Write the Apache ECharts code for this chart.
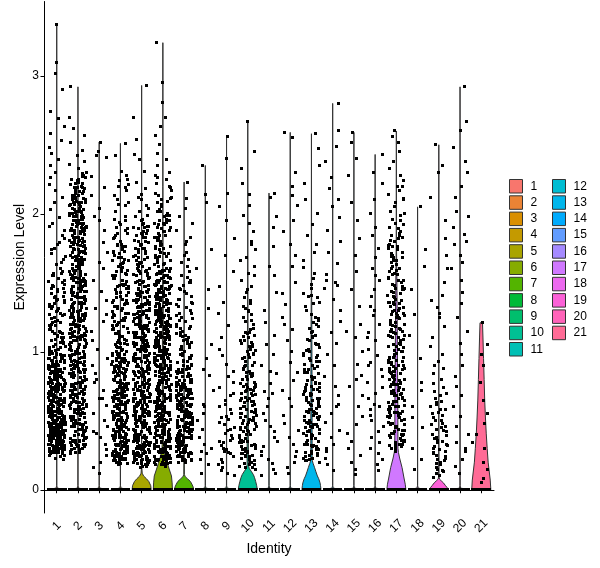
<!DOCTYPE html>
<html><head><meta charset="utf-8">
<script src="https://cdn.jsdelivr.net/npm/echarts@6/dist/echarts.min.js"></script>
<style>html,body{margin:0;padding:0;background:#fff}#chart{width:600px;height:568px}</style>
</head><body><div id="chart"></div>
<script>
const categories = ['1','2','3','4','5','6','7','8','9','10','11','12','13','14','15','16','17','18','19','20','21'];
const yTicks = [0, 1, 2, 3];
// estimated number of cells at exactly 0 per cluster
const zeroCells = [60,60,50,60,60,60,60,50,50,60,50,50,60,50,50,50,60,50,60,50,50];

// non-zero expression values per cluster (read from the jittered points)
const expr1 = [.22,.24,.25,.23,.27,.26,.29,.28,.3,.31,.3,.33,.32,.34,.35,.33,.31,.29,.27,.34,.26,.32,.35,.28,.3,
.36,.38,.41,.37,.44,.4,.43,.39,.47,.42,.45,.5,.46,.48,.52,.49,.55,.51,.53,.58,.54,.57,.6,.56,.59,
.38,.42,.46,.5,.54,.58,.37,.41,.45,.49,.53,.57,.36,.4,.44,.48,.52,.56,.39,.43,.47,.51,.55,.59,
.62,.64,.61,.67,.63,.66,.7,.65,.69,.72,.68,.74,.71,.76,.73,.78,.75,.8,.77,.83,.79,.85,.82,.88,.84,.9,.87,.63,.68,.73,.66,.71,.77,.81,.86,.64,.69,.75,.62,.7,
.92,.95,.97,.94,1,.98,1.03,1.01,1.06,1.04,1.09,1.07,1.12,1.1,1.15,1.13,1.18,1.16,1.21,.96,1.02,1.08,1.14,1.19,
1.24,1.27,1.31,1.29,1.35,1.33,1.38,1.42,1.4,1.46,1.44,1.5,1.53,1.48,1.57,1.55,1.6,1.26,1.37,
1.63,1.67,1.71,1.69,1.75,1.79,1.74,1.84,1.88,1.82,1.93,1.97,1.91,
2.03,2.08,2.12,2.17,2.21,2.26,2.3,2.35,2.39,2.44,2.48,2.53,2.58,2.63,2.69,2.74,2.9,3.02,3.1,3.37,
.25,.27,.29,.31,.33,.35,.37,.39,.41,.43,.45,.47,.49,.51,.53,.55,.57,.59,.26,.28,.3,.32,.34,.36,.38,.4,.42,.44,.46,.48,.5,.52,.54,.56,.58,.6,.27,.31,.35,.39,.43,.47,.51,.55,.59,.29,.33,.37,.41,.45,.49,.53,.57,.32,.36,.4,.44,.48,.52,.56,.3,.34,.38,.42,.46,.5,.54,.58,.4,.45,
.61,.63,.65,.67,.69,.71,.73,.75,.77,.79,.81,.83,.85,.87,.89,.91,.93,.95,.97,.99,.62,.66,.7,.74,.78,.82,.86,.9,.94,.98,.64,.68,.72,.76,.8,.84,.88,.92,.96,.63,.67,.71,.75,.79,.83,.87,.65,.73,.81,.89,
1.01,1.04,1.07,1.1,1.13,1.16,1.19,1.22,1.25,1.28,1.31,1.34,1.37,1.4,1.43,1.46,1.49,1.52,1.55,1.58,1.03,1.09,1.15,1.21,1.27,1.33,1.39,1.45,1.51,1.57,
.28,.3,.32,.34,.36,.38,.4,.42,.44,.46,.48,.5,.52,.54,.56,.58,.6,.62,.64,.66,.68,.7,.72,.74,.76,.78,.8,.82,.84,.86,.88,.9,.92,.94,.96,.98,
.29,.31,.33,.35,.37,.39,.41,.43,.45,.47,.49,.51,.53,.55,.57,.59,.61,.63,.65,.67,.69,.71,.73,.75,.77,.79,.81,.83,.85,.87,.89,.91,.93,.95,.97,.99,
.3,.35,.4,.45,.5,.55,.6,.65,.7,.75,.8,.85,.9,.95,1,1.05,1.1,1.2,1.3,1.4,1.5,1.11,1.23,1.36,1.47,1.65,1.78];
const expr2 = [.26,.28,.27,.3,.32,.29,.34,.31,.36,.33,.38,.35,.4,.37,.42,.39,.44,.41,.46,.43,.48,.45,.5,.47,.49,.31,.36,.42,.47,.29,
.52,.55,.51,.58,.54,.61,.57,.63,.6,.66,.62,.69,.65,.71,.68,.74,.7,.77,.73,.79,.76,.82,.78,.85,.81,.87,.84,.9,.86,.93,.89,.95,.92,.98,.94,1,.97,.53,.59,.64,.72,.8,.88,.96,.56,.67,.75,.83,.91,.99,.58,.63,.7,.77,.85,.93,.62,.74,.86,.97,
1.02,1.05,1.01,1.08,1.04,1.11,1.07,1.13,1.1,1.16,1.12,1.19,1.15,1.22,1.18,1.25,1.21,1.27,1.24,1.3,1.26,1.33,1.29,1.36,1.32,1.38,1.35,1.41,1.37,1.44,1.4,1.47,1.43,1.49,1.46,1.03,1.09,1.14,1.2,1.28,1.34,1.39,1.45,1.06,1.17,1.23,1.31,1.42,1.48,1.11,1.26,1.35,1.19,1.44,1.5,
1.52,1.55,1.51,1.58,1.54,1.61,1.57,1.63,1.6,1.66,1.62,1.69,1.65,1.71,1.68,1.74,1.7,1.77,1.73,1.79,1.76,1.82,1.78,1.85,1.81,1.87,1.84,1.9,1.86,1.93,1.89,1.95,1.92,1.98,1.94,2,1.97,1.56,1.64,1.72,1.8,1.88,1.96,1.59,1.67,1.75,1.83,1.91,1.53,1.99,
2.02,2.05,2.01,2.08,2.04,2.11,2.07,2.13,2.1,2.16,2.12,2.19,2.15,2.22,2.18,2.25,2.21,2.27,2.24,2.3,2.26,2.33,2.29,2.06,2.17,
2.38,2.42,2.36,2.46,2.52,2.57,2.62,2.7,2.92,
.27,.33,.39,.45,.51,.57,.63,.69,.75,.81,.87,.93,.99,1.05,1.11,1.17,1.23,1.29,1.35,1.41,1.47,1.53,1.59,1.65,1.71,1.77,1.83,1.89,1.95,2.01,2.07,2.13,2.19,
.3,.36,.42,.48,.54,.6,.66,.72,.78,.84,.9,.96,1.02,1.08,1.14,1.2,1.26,1.32,1.38,1.44,1.5,1.56,1.62,1.68,1.74,1.8,1.86,1.92,1.98,2.04,2.1,2.16,2.22,
.34,.41,.48,.55,.62,.69,.76,.83,.9,.97,1.04,1.11,1.18,1.25,1.32,1.39,1.46,1.53,1.6,1.67,1.74,1.81,1.88,1.95,2.02,2.09,
.37,.46,.55,.64,.73,.82,.91,1,1.09,1.18,1.27,1.36,1.45,1.54,1.63,1.72,1.81,1.9,1.99,2.08,
.44,.58,.71,.85,.98,1.12,1.25,1.39,1.52,1.66,1.79,1.93,.5,.7,.9,1.1,1.3,1.5,1.7,1.9,
.28,.32,.36,.4,.44,.48,.52,.56,.6,.64,.68,.72,.76,.8,.84,.88,.92,.96,1,1.04,1.08,1.12,1.16,1.2,1.24,1.28,1.32,1.36,1.4,1.44,1.48,1.52,1.56,1.6,1.64,1.68,1.72,1.76,1.8,1.84,1.88,1.92,1.96,2,2.04,2.08,2.12,2.16,2.2,
.31,.35,.39,.43,.47,.51,.55,.59,.63,.67,.71,.75,.79,.83,.87,.91,.95,.99,1.03,1.07,1.11,1.15,1.19,1.23,1.27,1.31,1.35,1.39,1.43,1.47,1.51,1.55,1.59,1.63,1.67,1.71,1.75,1.79,1.83,1.87,1.91,1.95,1.99,2.03,2.07,2.11,2.15,2.19,2.23,
.33,.38,.43,.48,.53,.58,.63,.68,.73,.78,.83,.88,.93,.98,1.03,1.08,1.13,1.18,1.23,1.28,1.33,1.38,1.43,1.48,1.53,1.58,1.63,1.68,1.73,1.78,1.83,1.88,1.93,1.98,2.03,2.08,2.13,2.18,2.25,2.28];
const expr3 = [2.52,2.45,2.42,2.41,2.27,2.19,2.13,2.04,1.98,1.95,1.88,1.79,1.72,1.65,1.6,1.52,1.44,1.37,1.31,1.22,1.15,1.08,1.02,.95,.9,.84,.78,.72,.66,.61,.55,.5,.46,.42,.38,.33,.29,.25,.2,.16,.12,.66,.41,1.27,.8];
const expr4 = [.18,.2,.19,.22,.21,.24,.23,.26,.25,.28,.27,.3,.29,.32,.31,.34,.33,.36,.35,.38,.37,.4,.39,.2,.23,.27,.31,.35,.39,.22,.26,.3,.34,.38,.25,.29,.33,.37,.24,.36,
.41,.43,.42,.46,.44,.48,.45,.5,.47,.52,.49,.55,.51,.57,.53,.59,.56,.61,.58,.63,.6,.65,.62,.67,.64,.7,.66,.72,.68,.74,.71,.76,.73,.78,.75,.8,.77,.42,.47,.52,.57,.62,.67,.72,.77,.44,.5,.55,.6,.66,.71,.46,.54,.63,.79,
.82,.85,.81,.88,.84,.91,.87,.94,.9,.96,.93,.99,.95,1.02,.98,1.05,1.01,1.08,1.04,1.1,1.07,1.13,1.09,1.16,1.12,1.18,1.15,1.2,.83,.89,.97,1.03,1.11,1.17,.86,.92,1,1.06,1.14,1.19,
1.22,1.25,1.21,1.28,1.24,1.31,1.27,1.34,1.3,1.37,1.33,1.4,1.36,1.43,1.39,1.46,1.42,1.49,1.45,1.52,1.48,1.55,1.51,1.58,1.54,1.6,1.23,1.35,1.47,1.57,
1.62,1.66,1.64,1.7,1.68,1.74,1.72,1.78,1.76,1.82,1.8,1.86,1.84,1.9,1.88,1.94,1.92,1.98,1.96,1.65,1.77,1.89,
2.02,2.06,2.1,2.13,2.08,2.17,2.21,2.19,2.25,2.28,2.24,2.31,2.42,2.51,
.19,.23,.27,.31,.35,.39,.43,.47,.51,.55,.59,.63,.67,.71,.75,.79,.83,.87,.91,.95,.99,
.21,.25,.29,.33,.37,.41,.45,.49,.53,.57,.61,.65,.69,.73,.77,.81,.85,.89,.93,.97,
.2,.26,.32,.38,.44,.5,.56,.62,.68,.74,.8,.86,.92,.98,.24,.34,.44,.54,.64,.74,.84,.94,
1.03,1.08,1.13,1.18,1.23,1.28,1.33,1.38,1.43,1.48,1.53,1.58,1.63,1.68,1.73,1.78,1.06,1.16,1.26,1.36,1.46,1.56,1.66,1.76,1.86,
.2,.22,.24,.26,.28,.3,.32,.34,.36,.38,.4,.42,.44,.46,.48,.5,.52,.54,.56,.58,.6,.62,.64,.66,.68,.7,.72,.74,.76,.78,.8,.82,.84,.86,.88,.9,.92,.94,.96,.98,1,
.23,.29,.35,.41,.47,.53,.59,.65,.71,.77,.83,.89,.95,1.01,1.07,1.13,1.19,1.25,1.31,1.37,1.43,1.49,1.55,1.61,1.67,1.73,
.21,.27,.33,.39,.45,.51,.57,.63,.69,.75,.81,.87,.93,.99,1.05,1.11,1.17,1.23,1.29,1.35,1.41,1.47,1.53,1.59,1.71,1.83,1.95,2.07,2.2];
const expr5 = [.16,.18,.17,.2,.19,.22,.21,.24,.23,.26,.25,.28,.27,.3,.29,.32,.31,.34,.33,.36,.35,.38,.37,.4,.39,.19,.23,.27,.31,.35,.2,.24,.28,.32,.36,.21,.26,.3,.34,.38,
.41,.44,.42,.47,.43,.49,.46,.52,.48,.54,.5,.56,.53,.59,.55,.61,.57,.63,.6,.66,.62,.68,.64,.7,.67,.72,.69,.75,.71,.77,.73,.79,.76,.8,.78,.45,.51,.58,.65,.74,.43,.5,.57,.63,.7,.77,.44,.53,.6,.68,.75,.48,.56,.66,.72,
.81,.84,.82,.87,.83,.9,.86,.92,.88,.95,.91,.97,.93,1,.96,1.03,.98,1.05,1.01,1.08,1.04,1.1,1.06,1.13,1.09,1.15,1.11,1.18,1.14,1.2,1.17,.85,.89,.94,.99,1.02,1.07,1.12,1.16,1.19,.83,.88,.93,.97,1.04,1.1,1.14,.86,.95,1.06,
1.21,1.24,1.22,1.27,1.23,1.3,1.26,1.32,1.28,1.35,1.31,1.37,1.33,1.4,1.36,1.43,1.38,1.45,1.41,1.48,1.44,1.5,1.46,1.53,1.49,1.55,1.51,1.58,1.54,1.6,1.57,1.25,1.29,1.34,1.39,1.42,1.47,1.52,1.56,1.59,
1.62,1.65,1.63,1.68,1.66,1.71,1.69,1.74,1.72,1.77,1.75,1.8,1.78,1.83,1.81,1.86,1.84,1.89,1.87,1.92,1.9,1.95,1.93,1.98,1.96,1.64,1.79,1.91,
2.02,2.06,2.04,2.1,2.14,2.12,2.18,2.23,2.31,2.39,2.43,2.54,2.7,2.93,
.17,.21,.25,.29,.33,.37,.41,.45,.49,.53,.57,.61,.65,.69,.73,.77,.81,.85,.89,.93,.97,1.01,1.05,1.09,1.13,1.17,1.21,1.25,1.29,1.33,1.37,1.41,1.45,
.19,.24,.29,.34,.39,.44,.49,.54,.59,.64,.69,.74,.79,.84,.89,.94,.99,1.04,1.09,1.14,1.19,1.24,1.29,1.34,1.39,1.44,1.49,
.22,.3,.38,.46,.54,.62,.7,.78,.86,.94,1.02,1.1,1.18,1.26,1.34,1.42,1.5,.26,.36,.46,.56,.66,.76,.86,.96,1.06,1.16,
1.55,1.6,1.65,1.7,1.75,1.8,1.85,1.9,1.58,1.68,1.78,1.88,
.18,.2,.22,.24,.26,.28,.3,.32,.34,.36,.38,.4,.42,.44,.46,.48,.5,.52,.54,.56,.58,.6,.62,.64,.66,.68,.7,.72,.74,.76,.78,.8,.82,.84,.86,.88,.9,.92,.94,.96,.98,1,1.02,1.04,1.06,1.08,1.1,1.12,1.14,1.16,1.18,1.2,1.22,1.24,1.26,1.28,1.3,1.32,1.34,1.36,1.38,1.4,
.23,.31,.39,.47,.55,.63,.71,.79,.87,.95,1.03,1.11,1.19,1.27,1.35,1.43,1.51,1.59,1.67,1.75,1.83,1.91,1.99,
.27,.37,.47,.57,.67,.77,.87,.97,1.07,1.17,1.27,1.37,1.47,1.57,1.62,1.73,1.86];
const expr6 = [.17,.19,.18,.21,.2,.23,.22,.25,.24,.27,.26,.29,.28,.31,.3,.33,.32,.35,.34,.37,.36,.39,.38,.4,.18,.22,.26,.3,.34,.38,.2,.24,.28,.32,.36,.19,.23,.27,.31,.35,.39,.25,
.41,.43,.42,.45,.44,.47,.46,.49,.48,.51,.5,.53,.52,.55,.54,.57,.56,.59,.58,.61,.6,.63,.62,.65,.64,.67,.66,.69,.68,.71,.7,.73,.72,.75,.74,.77,.76,.79,.78,.8,.42,.46,.5,.54,.58,.62,.66,.7,.74,.78,.44,.48,.52,.56,.6,.64,.68,.72,.76,.43,.51,.59,.67,.75,.47,
.81,.83,.82,.85,.84,.87,.86,.89,.88,.91,.9,.93,.92,.95,.94,.97,.96,.99,.98,1.01,1,1.03,1.02,1.05,1.04,1.07,1.06,1.09,1.08,1.11,1.1,1.13,1.12,1.15,1.14,1.17,1.16,1.19,1.18,1.2,.82,.86,.9,.94,.98,1.02,1.06,1.1,1.14,1.18,.84,.88,.92,.96,1,1.04,1.08,1.12,1.16,.87,
1.21,1.23,1.22,1.25,1.24,1.27,1.26,1.29,1.28,1.31,1.3,1.33,1.32,1.35,1.34,1.37,1.36,1.39,1.38,1.41,1.4,1.43,1.42,1.45,1.44,1.47,1.46,1.49,1.48,1.51,1.5,1.53,1.52,1.55,1.54,1.57,1.56,1.59,1.58,1.6,1.22,1.26,1.3,1.34,1.38,1.42,1.46,1.5,1.54,1.58,
1.62,1.65,1.63,1.68,1.66,1.71,1.69,1.74,1.72,1.77,1.75,1.8,1.78,1.83,1.81,1.86,1.84,1.89,1.87,1.92,1.9,1.95,1.93,1.98,1.96,1.64,1.7,1.76,1.82,1.88,1.94,1.99,
2.02,2.05,2.03,2.09,2.07,2.12,2.15,2.13,2.19,2.22,2.2,2.26,2.3,2.28,2.35,2.39,
2.44,2.5,2.57,2.63,2.7,2.81,2.95,3.24,
.18,.22,.26,.3,.34,.38,.42,.46,.5,.54,.58,.62,.66,.7,.74,.78,.82,.86,.9,.94,.98,1.02,1.06,1.1,1.14,1.18,1.22,1.26,1.3,1.34,1.38,1.42,1.46,1.5,1.54,1.58,
.2,.25,.3,.35,.4,.45,.5,.55,.6,.65,.7,.75,.8,.85,.9,.95,1,1.05,1.1,1.15,1.2,1.25,1.3,1.35,1.4,1.45,1.5,1.55,1.6,
.23,.31,.39,.47,.55,.63,.71,.79,.87,.95,1.03,1.11,1.19,1.27,1.35,1.43,1.51,.28,.4,.52,.64,.76,.88,1,1.12,1.24,1.36,1.48,
1.63,1.69,1.75,1.81,1.87,1.93,1.99,2.05,2.11,2.17,1.66,1.78,1.9,2.02,
.19,.21,.23,.25,.27,.29,.31,.33,.35,.37,.39,.41,.43,.45,.47,.49,.51,.53,.55,.57,.59,.61,.63,.65,.67,.69,.71,.73,.75,.77,.79,.81,.83,.85,.87,.89,.91,.93,.95,.97,.99,1.01,1.03,1.05,1.07,1.09,1.11,1.13,1.15,1.17,1.19,1.21,1.23,1.25,1.27,1.29,1.31,1.33,1.35,1.37,1.39,1.41,1.43,1.45,1.47,1.49,1.51,1.53,1.55,1.57,1.59,
.24,.32,.4,.48,.56,.64,.72,.8,.88,.96,1.04,1.12,1.2,1.28,1.36,1.44,1.52,1.6,1.68,1.76,1.84,1.92,2,2.08,
.27,.39,.51,.63,.75,.87,.99,1.11,1.23,1.35,1.47,1.59,1.71,1.83,1.95,2.1,2.25];
const expr7 = [.2,.22,.21,.24,.23,.26,.25,.28,.27,.3,.29,.32,.31,.34,.33,.36,.35,.38,.37,.4,.39,.21,.25,.29,.33,.37,.23,.27,.31,.35,.39,.24,
.41,.43,.42,.45,.44,.47,.46,.49,.48,.51,.5,.53,.52,.55,.54,.57,.56,.59,.58,.61,.6,.63,.62,.65,.64,.67,.66,.69,.68,.71,.7,.73,.72,.75,.74,.77,.76,.79,.78,.8,.42,.46,.5,.54,.58,.62,.66,.7,.74,.44,.52,.6,.68,.76,.48,
.82,.85,.84,.88,.87,.91,.9,.94,.93,.97,.96,1,.99,1.03,1.02,1.06,1.05,1.09,1.08,1.12,1.11,1.15,1.14,1.18,1.17,1.2,.86,.95,1.04,1.13,
1.22,1.26,1.24,1.3,1.28,1.34,1.32,1.38,1.36,1.42,1.4,1.46,1.44,1.5,1.48,1.54,1.52,1.58,
1.62,1.67,1.72,1.7,1.78,1.83,1.88,1.93,1.98,2.04,2.11,2.23,
.21,.24,.27,.3,.33,.36,.39,.42,.45,.48,.51,.54,.57,.6,.63,.66,.69,.72,.75,.78,.81,.84,.87,.9,
.22,.26,.3,.34,.38,.42,.46,.5,.54,.58,.62,.66,.7,.74,.78,.82,.86,.25,.31,.37,.43,.49,.55,.61,.67,.73,.79,.85,
.28,.38,.48,.58,.68,.78,.93,.98,1.03,1.08,1.13,1.18,1.23,1.28,1.33,1.38,1.45,1.55,
.2,.23,.26,.29,.32,.35,.38,.41,.44,.47,.5,.53,.56,.59,.62,.65,.68,.71,.74,.77,.8,.83,.86,.89,
.22,.27,.32,.37,.42,.47,.52,.57,.62,.67,.72,.77,.82,.87,.92,.97,1.02,1.07,1.12,1.17,
.24,.31,.38,.45,.52,.59,.66,.73,.8,.95,1.1,1.25,1.35,1.5,1.65,1.8];
const expr8 = [2.35,2.14,2.08,1.74,1.6,1.45,1.31,1.05,.95,.87,.83,.72,.62,.6,.55,.5,.44,.38,.33,.3,.28,.26,.22,.18,.12];
const expr9 = [2.56,2.4,2.15,2.05,1.95,1.82,1.7,1.58,1.47,1.36,1.28,1.19,1.1,1.02,.97,.91,.86,.82,.78,.74,.7,.68,.65,.62,.6,.58,.55,.53,.51,.49,.47,.45,.43,.41,.39,.37,.35,.34,.32,.3,.29,.27,.26,.24,.22,.2,.18,.16,.14,.12,.1,.44,.52,.36,.28];
const expr10 = [.15,.17,.16,.19,.18,.21,.2,.23,.22,.25,.24,.27,.26,.29,.28,.31,.3,.33,.32,.35,.34,.37,.36,.39,.38,.4,
.42,.44,.43,.46,.45,.48,.47,.5,.49,.52,.51,.54,.53,.56,.55,.58,.57,.6,.59,.62,.61,.64,.63,.66,.65,.68,.67,.7,.69,.72,.71,.74,.73,.76,.75,.78,.77,.8,
.82,.84,.83,.87,.86,.9,.89,.93,.92,.96,.95,.99,.98,1.02,1.01,1.05,1.04,1.08,1.07,1.11,1.1,1.14,1.13,1.17,1.16,1.2,
1.23,1.27,1.25,1.31,1.29,1.35,1.33,1.39,1.37,1.43,1.47,1.45,1.52,1.57,1.55,1.62,1.68,1.66,1.74,1.8,1.78,1.87,1.93,1.99,2.06,2.14,2.22,2.33,2.45,2.67,
.3,.45,.55,.65,.75,.85,.5,.6,.7,.35,.25,
.16,.2,.24,.28,.32,.36,.4,.44,.48,.52,.56,.6,.64,.68,.72,.76,.8,.84,.88,.92,.96,1,1.04,1.08,1.12,.18,.26,.34,.42,.5,.58,.66,.74,.82,.9,.98,1.06,1.14,1.22,1.3];
const expr11 = [2.15,2.12,1.98,1.9,1.76,1.62,1.55,1.43,1.3,1.21,1.12,1.05,.98,.9,.84,.77,.71,.66,.6,.55,.5,.46,.42,.38,.35,.31,.28,.25,.22,.19,.15,.12,.1,.7,.86];
const expr12 = [2.59,2.55,2.3,2.2,2.13,2.06,1.95,1.87,1.78,1.7,1.62,1.5,1.42,1.34,1.25,1.16,1.08,1,.92,.85,.79,.72,.66,.6,.54,.48,.43,.38,.33,.28,.24,.2,.16,.12,1.2];
const expr13 = [.2,.22,.21,.24,.23,.26,.25,.28,.27,.3,.29,.32,.31,.34,.33,.36,.35,.38,.37,.4,.39,.42,.41,.44,.43,.46,.45,.48,.47,.5,.49,.52,.51,.54,.53,.56,.55,.58,.57,.6,.59,.62,.61,.64,.63,.66,.65,.68,.67,.7,.69,.72,.71,.74,.73,.76,.75,.78,.77,.8,
.82,.85,.84,.88,.87,.91,.9,.94,.93,.97,.96,1,.99,1.03,1.02,1.06,1.05,1.09,1.08,1.12,1.11,1.15,1.14,1.18,1.17,1.21,1.2,1.24,1.23,1.27,
1.3,1.33,1.36,1.35,1.39,1.42,1.41,1.46,1.49,1.53,1.57,1.61,1.66,1.72,1.78,1.84,1.92,2,2.1,2.22,2.35,2.47,2.58,
.26,.34,.42,.5,.58,.66,.74,.32,.46,.56,
.21,.25,.29,.33,.37,.41,.45,.49,.53,.57,.61,.65,.69,.73,.77,.81,.85,.89,.93,.97,1.01,1.05,.23,.31,.39,.47,.55,.63,.71,.79,.87,.95,1.1,1.25,1.4];
const expr14 = [2.8,2.6,2.49,2.38,2.26,2.18,2.05,1.97,1.88,1.8,1.72,1.64,1.56,1.5,1.46,1.38,1.3,1.22,1.14,1.06,.98,.9,.82,.75,.68,.62,.55,.49,.43,.38,.33,.28,.23,.18,.14,1.52,1.48,.6,.3,2.1];
const expr15 = [2.59,2.52,2.4,2.28,2.08,1.95,1.82,1.7,1.58,1.45,1.33,1.2,1.1,1,.91,.83,.75,.68,.6,.53,.47,.41,.35,.3,.25,.2,.15,.11,.8,1.15];
const expr16 = [2.43,2.3,2.22,2.1,2,1.9,1.84,1.75,1.68,1.6,1.52,1.45,1.4,1.33,1.26,1.2,1.14,1.08,1.02,.97,.92,.87,.82,.78,.74,.7,.66,.62,.58,.54,.5,.46,.42,.38,.34,.3,.26,.22,.18,.14,1.1,.9,1.3,1.55,.6];
const expr17 = [.28,.3,.29,.32,.31,.34,.33,.36,.35,.38,.37,.4,.39,.42,.41,.44,.43,.46,.45,.48,.47,.5,.49,.31,.35,.39,.43,.47,.33,.41,
.51,.53,.52,.55,.54,.57,.56,.59,.58,.61,.6,.63,.62,.65,.64,.67,.66,.69,.68,.71,.7,.73,.72,.75,.74,.77,.76,.79,.78,.81,.8,.83,.82,.85,.84,.87,.86,.89,.88,.91,.9,.93,.92,.95,.94,.97,.96,.99,.98,1,.52,.56,.6,.64,.68,.72,.76,.8,.84,.88,.92,.96,.54,.62,.7,.78,.86,.94,.58,.74,
1.01,1.03,1.02,1.05,1.04,1.07,1.06,1.09,1.08,1.11,1.1,1.13,1.12,1.15,1.14,1.17,1.16,1.19,1.18,1.21,1.2,1.23,1.22,1.25,1.24,1.27,1.26,1.29,1.28,1.31,1.3,1.33,1.32,1.35,1.34,1.37,1.36,1.39,1.38,1.41,1.4,1.43,1.42,1.45,1.44,1.47,1.46,1.49,1.48,1.5,1.05,1.15,1.25,1.35,1.45,
1.52,1.54,1.53,1.57,1.56,1.6,1.59,1.63,1.62,1.66,1.65,1.69,1.68,1.72,1.71,1.75,1.74,1.78,1.77,1.81,1.8,1.84,1.83,1.87,1.86,1.9,1.89,1.93,1.92,1.96,1.95,1.99,1.58,1.7,1.82,
2.02,2.05,2.08,2.11,2.14,2.17,2.2,2.24,2.28,2.33,2.38,2.45,2.52,2.56,2.6,
.32,.4,.48,.56,.64,.72,.8,.88,.96,1.04,1.12,1.2,1.28,1.36,1.44,1.52,1.6,1.68,1.76,1.84,.36,.46,.56,.66,.76,.86,.96,1.06,1.16,1.26,1.36,1.46,1.56,1.66,1.76,1.9,2,2.1,2.2,.6,.7,.9,1,1.1,1.3];
const expr18 = [2.05,1.74,1.62,1.45,1.27,1.12,.95,.78,.72,.6,.52,.45,.3,.22,.15];
const expr19 = [2.5,2.35,2.3,2.12,1.95,1.82,1.7,1.6,1.5,1.41,1.32,1.25,1.18,1.1,1.04,.98,.93,.88,.84,.8,.77,.74,.71,.68,.66,.64,.62,.6,.58,.56,.54,.52,.5,.48,.46,.45,.43,.42,.4,.39,.37,.36,.34,.33,.31,.3,.28,.27,.25,.24,.22,.21,.19,.18,.16,.15,.13,.12,.1,.09,.58,.5,.44,.38,.32,.26,.2,.14,.7,.63,.55,.47,.35,.29,.23,1.37,1.28,.9];
const expr20 = [2.92,2.67,2.6,2.48,2.38,2.3,2.2,2.12,1.98,1.9,1.85,1.78,1.7,1.6,1.52,1.43,1.35,1.25,1.15,1.06,.98,.9,.82,.75,.68,.6,.53,.46,.4,.34,.28,.22,.17,.12,1.8,2.02,1.65,.3];
const expr21 = [1.21,1.05,.98,.9,.78,.65,.55,.48,.4,.34,.3,.2,.15,.08,.05];

// violin outlines per cluster: [expression level, relative half-width (1 = widest)]
const violin1 = [[0,1],[.012,.06],[.03,.01],[3.37,.003]];
const violin2 = [[0,1],[.012,.06],[.03,.01],[2.92,.003]];
const violin3 = [[0,1],[.012,.06],[.03,.01],[2.52,.003]];
const violin4 = [[0,1],[.012,.06],[.03,.01],[2.51,.003]];
const violin5 = [[0,1],[.03,.95],[.06,.75],[.08,.5],[.1,.2],[.12,.06],[.16,.02],[.3,.01],[2.93,.003]];
const violin6 = [[0,1],[.05,.97],[.1,.9],[.15,.66],[.19,.48],[.23,.3],[.28,.1],[.35,.06],[.8,.05],[1.4,.04],[1.7,.015],[2.2,.006],[3.24,.003]];
const violin7 = [[0,1],[.02,.95],[.04,.82],[.06,.66],[.08,.35],[.095,.12],[.11,.03],[.3,.01],[2.23,.003]];
const violin8 = [[0,1],[.012,.06],[.03,.01],[2.35,.003]];
const violin9 = [[0,1],[.012,.06],[.03,.01],[2.56,.003]];
const violin10 = [[0,1],[.03,.93],[.06,.83],[.09,.7],[.11,.58],[.13,.4],[.155,.15],[.18,.07],[.5,.06],[.9,.05],[1.3,.02],[2.67,.003]];
const violin11 = [[0,1],[.012,.06],[.03,.01],[2.15,.003]];
const violin12 = [[0,1],[.012,.06],[.03,.01],[2.59,.003]];
const violin13 = [[0,1],[.03,.95],[.05,.9],[.08,.76],[.1,.62],[.13,.47],[.16,.33],[.19,.18],[.21,.09],[.25,.07],[.7,.065],[1.2,.04],[1.5,.015],[2.58,.003]];
const violin14 = [[0,1],[.012,.06],[.03,.01],[2.8,.003]];
const violin15 = [[0,1],[.012,.06],[.03,.01],[2.59,.003]];
const violin16 = [[0,1],[.012,.06],[.03,.01],[2.43,.003]];
const violin17 = [[0,1],[.04,.93],[.085,.8],[.16,.6],[.23,.34],[.27,.22],[.3,.17],[.45,.16],[.65,.15],[.9,.12],[1.1,.1],[1.35,.08],[1.55,.05],[1.73,.02],[1.8,.006],[2.6,.003]];
const violin18 = [[0,1],[.012,.06],[.03,.01],[2.05,.003]];
const violin19 = [[0,1],[.015,.88],[.03,.7],[.05,.48],[.065,.25],[.078,.06],[.1,.02],[.4,.01],[2.5,.003]];
const violin20 = [[0,1],[.012,.06],[.03,.01],[2.92,.003]];
const violin21 = [[0,1],[.07,.94],[.2,.72],[.3,.62],[.41,.52],[.52,.44],[.65,.36],[.8,.3],[.95,.24],[1.1,.18],[1.21,.13]];

const exprByCluster = [expr1,expr2,expr3,expr4,expr5,expr6,expr7,expr8,expr9,expr10,expr11,expr12,expr13,expr14,expr15,expr16,expr17,expr18,expr19,expr20,expr21];
const violins = [violin1,violin2,violin3,violin4,violin5,violin6,violin7,violin8,violin9,violin10,violin11,violin12,violin13,violin14,violin15,violin16,violin17,violin18,violin19,violin20,violin21];

// ggplot2 default hue palette (hcl, c=100, l=65)
function hcl2hex(h, c, l) {
  const WY = 100, Wu = 0.1978398, Wv = 0.4683363;
  const hr = h * Math.PI / 180, U = c * Math.cos(hr), V = c * Math.sin(hr);
  const Y = WY * (l > 7.999592 ? Math.pow((l + 16) / 116, 3) : l / 903.3);
  const u = U / (13 * l) + Wu, v = V / (13 * l) + Wv;
  const X = 9 * Y * u / (4 * v), Z = -X / 3 - 5 * Y + 3 * Y / v;
  const g = t => { t = t > 0.00304 ? 1.055 * Math.pow(t, 1 / 2.4) - 0.055 : 12.92 * t; return Math.round(Math.min(1, Math.max(0, t)) * 255); };
  const r = g((3.240479 * X - 1.537150 * Y - 0.498535 * Z) / WY);
  const gg = g((-0.969256 * X + 1.875992 * Y + 0.041556 * Z) / WY);
  const b = g((0.055648 * X - 0.204043 * Y + 1.057311 * Z) / WY);
  return '#' + [r, gg, b].map(x => x.toString(16).padStart(2, '0')).join('');
}
const n = categories.length;
const colors = categories.map((_, i) => hcl2hex(15 + i * 360 / n, 100, 65));

function jitter(c, i) { const s = Math.sin(c * 12.9898 + i * 78.233) * 43758.5453; return s - Math.floor(s); }
const points = [];
exprByCluster.forEach((vals, k) => {
  const c = k + 1;
  for (let j = 0; j < zeroCells[k]; j++) points.push([c - 0.4 + 0.8 * (j + 0.5) / zeroCells[k], 0]);
  vals.forEach((v, i) => points.push([c + (jitter(c, i) - 0.5) * 0.8, v]));
});

const violinSeries = categories.map((name, k) => ({
  type: 'custom', name: name, silent: true, z: 2,
  itemStyle: { color: colors[k] },
  data: [[k + 1, 0]],
  renderItem: function (params, api) {
    const c = k + 1, prof = violins[k], hw = 0.45;
    const left = prof.map(p => api.coord([c - p[1] * hw, p[0]]));
    const right = prof.slice().reverse().map(p => api.coord([c + p[1] * hw, p[0]]));
    return { type: 'polygon', shape: { points: left.concat(right) },
      style: { fill: colors[k], stroke: '#333333', lineWidth: 1 } };
  }
}));

const legendBase = {
  orient: 'vertical', padding: 0, itemWidth: 13, itemHeight: 13.5, itemGap: 1.8,
  icon: 'rect', selectedMode: false,
  itemStyle: { borderColor: '#333333', borderWidth: 1 },
  textStyle: { fontSize: 12, color: '#000', fontFamily: 'Liberation Sans, Arial, sans-serif', padding: [0, 0, 0, 3] }
};

const chart = echarts.init(document.getElementById('chart'), null, { renderer: 'canvas' });
chart.setOption({
  animation: false,
  backgroundColor: '#fff',
  textStyle: { fontFamily: 'Liberation Sans, Arial, sans-serif' },
  grid: { left: 44, right: 106, top: 1.5, bottom: 55, outerBoundsMode: 'none' },
  legend: [
    Object.assign({}, legendBase, { left: 509, top: 179, data: categories.slice(0, 11) }),
    Object.assign({}, legendBase, { left: 552, top: 179, data: categories.slice(11) })
  ],
  xAxis: {
    type: 'value', min: 0.4, max: 21.6,
    name: 'Identity', nameLocation: 'middle', nameGap: 29, nameMoveOverlap: false,
    nameTextStyle: { fontSize: 14, color: '#000' },
    axisLine: { show: true, lineStyle: { color: '#000', width: 1 } },
    axisTick: { show: true, length: 3.5, lineStyle: { color: '#000' }, customValues: categories.map((_, i) => i + 1) },
    axisLabel: { rotate: 45, fontSize: 12, color: '#000', margin: 13, align: 'center', verticalAlign: 'middle',
      customValues: categories.map((_, i) => i + 1), formatter: v => categories[Math.round(v) - 1] },
    splitLine: { show: false }
  },
  yAxis: {
    type: 'value', min: -0.1685, max: 3.5385,
    name: 'Expression Level', nameLocation: 'middle', nameGap: 17, nameMoveOverlap: false,
    nameTextStyle: { fontSize: 14, color: '#000' },
    axisLine: { show: true, lineStyle: { color: '#000', width: 1 } },
    axisTick: { show: true, length: 3.5, lineStyle: { color: '#000' }, customValues: yTicks },
    axisLabel: { fontSize: 12, color: '#000', margin: 5, customValues: yTicks, formatter: v => String(v) },
    splitLine: { show: false }
  },
  series: violinSeries.concat([{
    type: 'custom', name: 'cells', silent: true, z: 3, progressive: 0,
    encode: { x: 0, y: 1 },
    data: points,
    renderItem: function (params, api) {
      const p = api.coord([api.value(0), api.value(1)]);
      return { type: 'rect', shape: { x: Math.round(p[0] - 1.5), y: Math.round(p[1] - 1.5), width: 3, height: 3 },
        style: { fill: '#000' } };
    }
  }])
});
</script></body></html>
